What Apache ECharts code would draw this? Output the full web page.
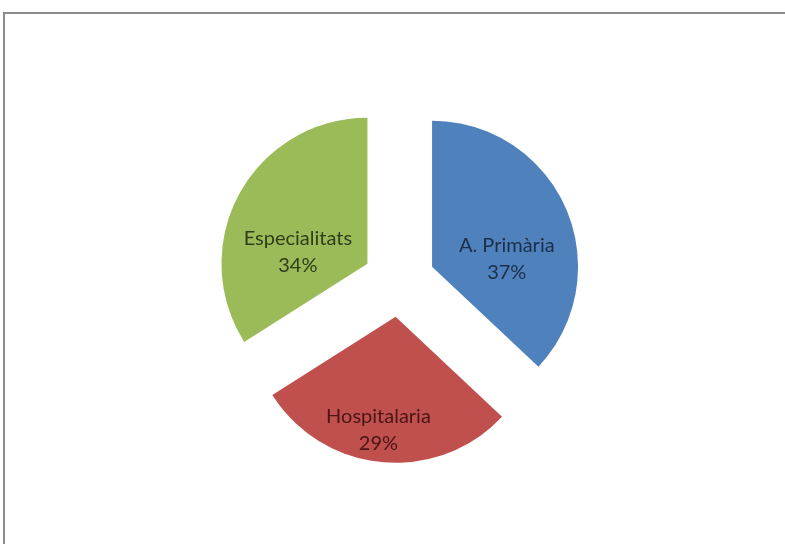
<!DOCTYPE html>
<html>
<head>
<meta charset="utf-8">
<script src="https://cdn.jsdelivr.net/npm/echarts@6/dist/echarts.min.js"></script>
<style>
html,body{margin:0;padding:0;background:#fff;}
#chart{width:785px;height:544px;}
</style>
</head>
<body>
<div id="chart"></div>
<script>
const categories = ['A. Primària', 'Hospitalaria', 'Especialitats'];
const values = [37, 29, 34];

const colors = ['#4F81BD', '#C0504D', '#9BBB59'];
const labelColors = ['#1c2f4a', '#4a1514', '#2f3d18'];
const labelShift = [[5, 23], [-10, 38], [-3, 25]];

const chart = echarts.init(document.getElementById('chart'), null, {renderer: 'canvas'});
chart.setOption({
  animation: false,
  backgroundColor: '#fff',
  graphic: [{
    type: 'rect',
    shape: {x: 4, y: 13, width: 900, height: 700},
    style: {fill: 'none', stroke: '#8c8c8c', lineWidth: 2},
    silent: true
  }],
  series: [{
    type: 'pie',
    center: [399, 281],
    radius: [0, 146],
    startAngle: 90,
    clockwise: true,
    selectedMode: 'multiple',
    selectedOffset: 36,
    avoidLabelOverlap: false,
    emphasis: {disabled: true},
    label: {
      show: true,
      position: 'inside',
      fontFamily: 'Lato',
      fontSize: 20,
      lineHeight: 27,
      align: 'center',
      formatter: function (p) { return p.name + '\n' + Math.round(p.percent) + '%'; }
    },
    labelLine: {show: false},
    labelLayout: function (p) {
      return {dx: labelShift[p.dataIndex][0], dy: labelShift[p.dataIndex][1]};
    },
    data: categories.map(function (c, i) {
      return {
        name: c,
        value: values[i],
        selected: true,
        itemStyle: {color: colors[i], borderWidth: 0},
        label: {color: labelColors[i]},
        select: {itemStyle: {color: colors[i], borderWidth: 0}, label: {color: labelColors[i]}}
      };
    })
  }]
});
</script>
</body>
</html>
